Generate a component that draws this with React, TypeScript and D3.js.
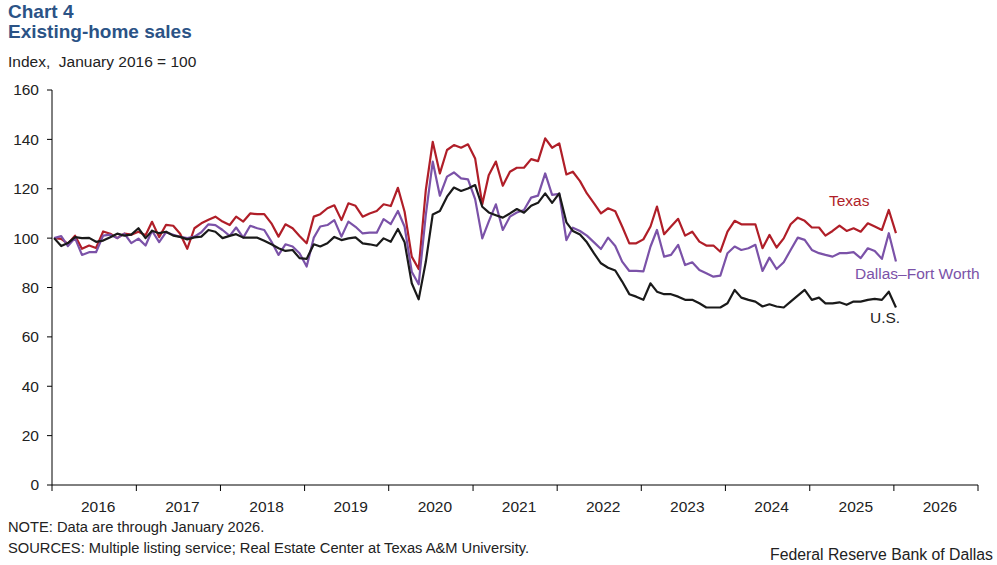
import React from 'react';
import * as d3 from 'd3';

// Monthly index values, Jan 2016 through Jan 2026 (Jan 2016 = 100)
const texas: number[] = [
  100, 99.7, 97.7, 101, 95.7, 97, 96, 102.7, 101.8, 100, 101.8, 101.4,
  102.6, 101.2, 106.6, 100.4, 105.4, 105, 101.8, 95.7, 104, 106, 107.4, 108.7,
  106.7, 105.3, 108.7, 106.7, 110, 109.7, 109.7, 106, 100.6, 105.6, 104, 100.9,
  97.9, 108.7, 109.7, 112.1, 113.3, 107.3, 114.1, 113.1, 108.7, 110, 111, 113.7,
  113, 120.4, 110.7, 92.5, 87.5, 119.5, 139, 126.2, 135.7, 137.7, 136.6, 138,
  132.3, 113.7, 125.5, 131, 121.2, 126.9, 128.5, 128.5, 132, 131.2, 140.4, 136.6,
  138.4, 125.8, 126.9, 123.1, 118.1, 114.1, 110, 112.1, 110.9, 104.7, 97.9, 97.9,
  99.5, 104.7, 112.8, 101.6, 104.7, 107.8, 101, 102.6, 98.6, 97, 97, 94.5,
  102.6, 107, 105.6, 105.6, 105.6, 95.9, 101.3, 96.2, 99.9, 105.6, 108.3, 107,
  104.3, 104.3, 101, 102.9, 105.1, 102.9, 104, 102.6, 106, 104.7, 103.3, 111.4,
  102,
];

const dfw: number[] = [
  100, 100.8, 96.8, 100, 93.2, 94.3, 94.3, 101, 101.4, 100, 101.8, 98,
  99.8, 97, 103, 98.4, 102.4, 101.4, 100.5, 100, 100.6, 102.4, 105.6, 105.3,
  103.3, 100.9, 104.3, 100.2, 105, 104, 103.3, 98.6, 93.2, 97.5, 96.6, 93.9,
  88.5, 100.2, 104.7, 105.3, 107.3, 100.6, 106.7, 104.6, 101.9, 102.2, 102.2, 107.7,
  105.7, 111, 104.6, 86.4, 81.3, 109.4, 131, 117.2, 124.9, 126.6, 124.2, 123.8,
  115.8, 99.9, 106.7, 113.7, 103.3, 108.7, 110.4, 111.4, 116.4, 117.2, 126.2, 117.5,
  117.9, 99.2, 104.2, 102.9, 101, 98.3, 95.6, 100.2, 96.8, 90.5, 86.7, 86.7,
  86.5, 96.6, 103.3, 92.5, 93.2, 97.3, 89.1, 90.2, 87.1, 85.8, 84.4, 84.8,
  93.9, 96.6, 95.2, 95.9, 97.3, 86.7, 92.1, 87.5, 90.2, 95.2, 100.2, 99.3,
  95.2, 93.9, 93.2, 92.5, 93.9, 93.9, 94.3, 91.9, 95.9, 94.8, 91.6, 102,
  90.5,
];

const us: number[] = [
  100, 96.8, 98, 100.4, 100, 100.1, 98.5, 99, 100.4, 101.8, 101, 101.4,
  104, 100, 103, 102, 102.6, 101, 100.5, 99.5, 100.3, 100.6, 103.3, 102.6,
  100, 100.9, 101.6, 100.2, 100.2, 100.2, 98.9, 97.5, 95.9, 94.8, 95.2, 91.9,
  91.6, 97.5, 96.6, 97.9, 100.5, 99.2, 99.9, 100.3, 97.9, 97.5, 96.9, 99.9,
  98.5, 103.7, 98.3, 81.7, 75.2, 90.4, 109.6, 111, 116.8, 120.5, 119.1, 120.1,
  121.5, 112.7, 110.4, 109.3, 108.3, 110, 111.8, 110.3, 113.1, 114.3, 118.1, 114.3,
  118.1, 106.4, 102.9, 101.5, 98.3, 93.8, 89.8, 88, 86.9, 82.4, 77.3, 76.3,
  75, 81.7, 78.3, 77.3, 77.3, 76.3, 75, 75, 73.6, 71.9, 71.9, 71.9,
  73.6, 79, 75.9, 75, 74.3, 72.3, 73.2, 72.3, 71.9, 74.3, 76.7, 79,
  75, 75.9, 73.6, 73.6, 74, 73, 74.3, 74.3, 75, 75.4, 75, 78.3,
  71.9,
];

const years: number[] = [2016, 2017, 2018, 2019, 2020, 2021, 2022, 2023, 2024, 2025, 2026];
const yTicks: number[] = [0, 20, 40, 60, 80, 100, 120, 140, 160];

const W = 997;
const H = 565;
const FONT = '"Liberation Sans", Arial, Helvetica, sans-serif';
const TEXT = '#222222';

const series = [
  { name: 'Texas', values: texas, color: '#B01E28' },
  { name: 'Dallas–Fort Worth', values: dfw, color: '#7B52A8' },
  { name: 'U.S.', values: us, color: '#1A1A1A' },
];

export default function App() {
  const x = d3.scaleTime()
    .domain([new Date(2016, 0, 1), new Date(2027, 0, 1)])
    .range([52, 978]);
  const y = d3.scaleLinear().domain([0, 160]).range([485, 90]);

  // points sit a little inside each month
  const dateOf = (i: number) => new Date(2016, i, 10);
  const line = d3.line<number>()
    .x((_, i) => x(dateOf(i)))
    .y(d => y(d));

  const yearStarts = years.map(yr => new Date(yr, 0, 1)).concat([new Date(2027, 0, 1)]);

  return (
    <svg width={W} height={H} style={{ position: 'absolute', left: 0, top: 0, background: '#fff' }} fontFamily={FONT}>
      <text x={8} y={18} fontSize={19} fontWeight="bold" fill="#2B5386">Chart 4</text>
      <text x={8} y={38} fontSize={19} fontWeight="bold" fill="#2B5386">Existing-home sales</text>
      <text x={8} y={67} fontSize={15.5} fill={TEXT} style={{ whiteSpace: 'pre' }}>Index,  January 2016 = 100</text>

      {/* y axis */}
      <line x1={52} x2={52} y1={y(160)} y2={y(0)} stroke="#000" strokeWidth={1} />
      {yTicks.map(t => (
        <g key={t}>
          <line x1={47} x2={52} y1={y(t)} y2={y(t)} stroke="#000" strokeWidth={1} />
          <text x={39} y={y(t)} dy="0.35em" textAnchor="end" fontSize={15.5} fill={TEXT}>{t}</text>
        </g>
      ))}

      {/* x axis */}
      <line x1={52} x2={978} y1={y(0)} y2={y(0)} stroke="#000" strokeWidth={1} />
      {yearStarts.map((d, i) => (
        <line key={i} x1={x(d)} x2={x(d)} y1={y(0)} y2={y(0) + 6} stroke="#000" strokeWidth={1} />
      ))}
      {years.map(yr => {
        const cx = (x(new Date(yr, 0, 1)) + x(new Date(yr + 1, 0, 1))) / 2 + 4;
        return (
          <text key={yr} x={cx} y={512} textAnchor="middle" fontSize={15.5} fill={TEXT}>{yr}</text>
        );
      })}

      {/* lines */}
      {series.map(s => (
        <path key={s.name} d={line(s.values) || ''} fill="none" stroke={s.color} strokeWidth={2.2} strokeLinejoin="round" />
      ))}

      {/* direct labels */}
      <text x={829} y={206} fontSize={15.5} fill={series[0].color}>Texas</text>
      <text x={855} y={279} fontSize={15.5} fill={series[1].color}>Dallas–Fort Worth</text>
      <text x={870} y={323} fontSize={15.5} fill={TEXT}>U.S.</text>

      {/* notes */}
      <text x={8} y={532} fontSize={14.7} fill={TEXT}>NOTE: Data are through January 2026.</text>
      <text x={8} y={553} fontSize={14.7} fill={TEXT}>SOURCES: Multiple listing service; Real Estate Center at Texas A&amp;M University.</text>
      <text x={993} y={560} textAnchor="end" fontSize={15.8} fill={TEXT}>Federal Reserve Bank of Dallas</text>
    </svg>
  );
}
